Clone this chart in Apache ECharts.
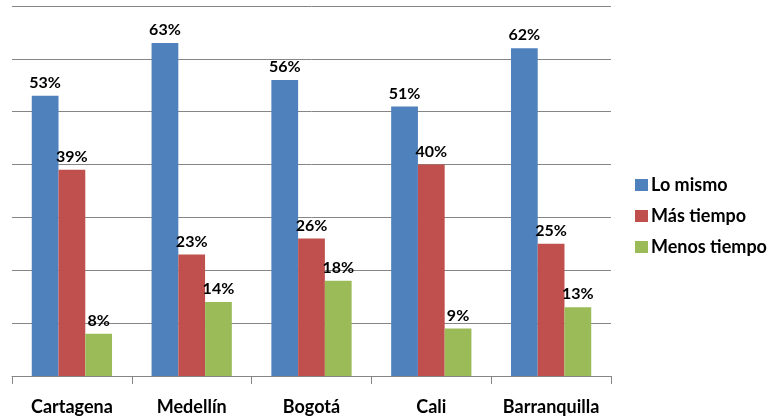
<!DOCTYPE html>
<html>
<head>
<meta charset="utf-8">
<script src="https://cdn.jsdelivr.net/npm/echarts@6/dist/echarts.min.js"></script>
<style>
  html, body { margin: 0; padding: 0; background: #fff; }
  #chart { width: 772px; height: 419px; }
</style>
</head>
<body>
<div id="chart"></div>
<script>
var ciudades = ['Cartagena', 'Medellín', 'Bogotá', 'Cali', 'Barranquilla'];
var loMismo = [53, 63, 56, 51, 62];
var masTiempo = [39, 23, 26, 40, 25];
var menosTiempo = [8, 14, 18, 9, 13];

var myChart = echarts.init(document.getElementById('chart'));
var fuente = 'Lato, "Open Sans", sans-serif';

function serie(nombre, datos, color) {
    return {
        name: nombre,
        type: 'bar',
        data: datos,
        barGap: 0,
        barCategoryGap: '33%',
        itemStyle: {color: color},
        label: {
            show: true,
            position: 'top',
            distance: 5,
            formatter: '{c}%',
            color: '#000',
            fontSize: 16,
            fontWeight: 'bold',
            fontFamily: fuente
        }
    };
}

var option = {
    animation: false,
    grid: {left: 12, right: 161, top: 6, bottom: 43},
    legend: {
        orient: 'vertical',
        left: 630,
        top: 171,
        itemWidth: 13,
        itemHeight: 12,
        itemGap: 13,
        icon: 'rect',
        textStyle: {color: '#000', fontSize: 18, fontWeight: 'bold', fontFamily: fuente, padding: [0, 0, 0, -2]}
    },
    xAxis: {
        type: 'category',
        data: ciudades,
        axisLine: {lineStyle: {color: '#868686', width: 1}},
        axisTick: {show: true, interval: 0, length: 8, lineStyle: {color: '#868686'}},
        axisLabel: {interval: 0, color: '#000', fontSize: 18, fontWeight: 'bold', fontFamily: fuente, margin: 22}
    },
    yAxis: {
        type: 'value',
        min: 0,
        max: 70,
        interval: 10,
        axisLine: {show: false},
        axisTick: {show: false},
        axisLabel: {show: false},
        splitLine: {lineStyle: {color: '#868686', width: 1}}
    },
    series: [
        serie('Lo mismo', loMismo, '#4F81BD'),
        serie('Más tiempo', masTiempo, '#C0504D'),
        serie('Menos tiempo', menosTiempo, '#9BBB59')
    ]
};
myChart.setOption(option);
</script>
</body>
</html>
